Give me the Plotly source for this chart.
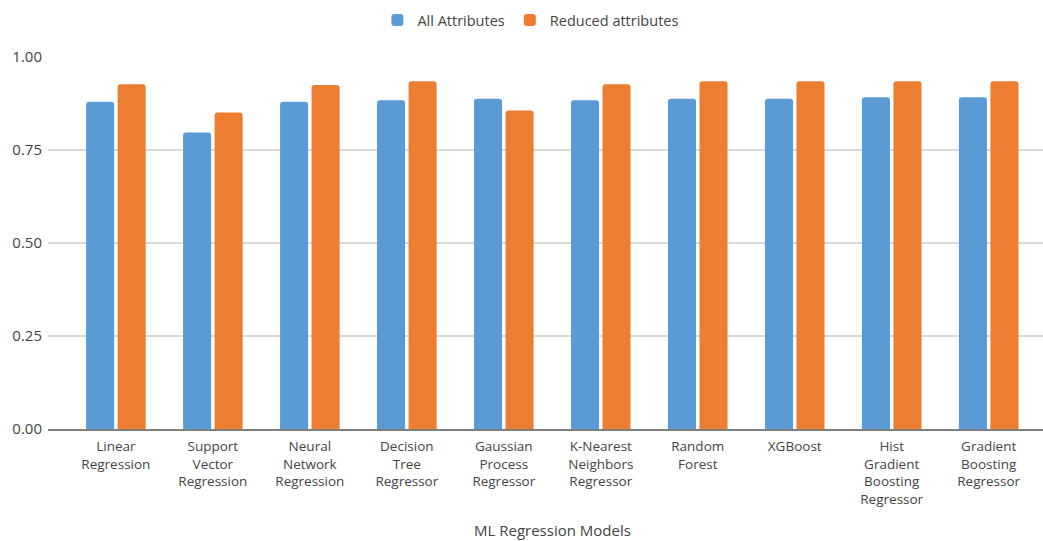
import plotly.graph_objects as go

models = [
    "Linear<br>Regression",
    "Support<br>Vector<br>Regression",
    "Neural<br>Network<br>Regression",
    "Decision<br>Tree<br>Regressor",
    "Gaussian<br>Process<br>Regressor",
    "K-Nearest<br>Neighbors<br>Regressor",
    "Random<br>Forest",
    "XGBoost",
    "Hist<br>Gradient<br>Boosting<br>Regressor",
    "Gradient<br>Boosting<br>Regressor",
]
all_attributes = [0.880, 0.797, 0.880, 0.884, 0.888, 0.884, 0.888, 0.888, 0.892, 0.892]
reduced_attributes = [0.927, 0.851, 0.925, 0.935, 0.856, 0.927, 0.935, 0.935, 0.935, 0.935]
y_ticks = [0.0, 0.25, 0.5, 0.75, 1.0]
y_tick_text = ["0.00", "0.25", "0.50", "0.75", "1.00"]

font_family = "Open Sans"
text_color = "#444444"

fig = go.Figure()
fig.add_trace(go.Bar(x=models, y=all_attributes, name="All Attributes",
                     marker=dict(color="#5B9BD5", line=dict(width=0))))
fig.add_trace(go.Bar(x=models, y=reduced_attributes, name="Reduced attributes",
                     marker=dict(color="#ED7D31", line=dict(width=0))))

fig.update_layout(
    width=1043, height=541,
    margin=dict(l=48, r=0, t=57, b=112),
    paper_bgcolor="white", plot_bgcolor="white",
    barmode="group", bargap=0.35, bargroupgap=0.11,
    barcornerradius=3,
    font=dict(family=font_family, size=14, color=text_color),
    legend=dict(orientation="h", xref="container", yref="container",
                x=0.509, y=0.963, xanchor="center", yanchor="middle",
                font=dict(size=14.5, color=text_color), itemwidth=30,
                traceorder="normal"),
    xaxis=dict(range=[-0.7, 9.56], showgrid=False, showline=True,
               linecolor="#7f7f7f", linewidth=1.5, ticks="", tickangle=0,
               ticklabelstandoff=4,
               tickfont=dict(size=13.5, color=text_color)),
    yaxis=dict(range=[0, 1.0], tickvals=y_ticks, ticktext=y_tick_text,
               showgrid=True, gridcolor="#d9d9d9", gridwidth=1.5,
               zeroline=False, showline=False, ticks="outside", ticklen=2,
               tickcolor="rgba(0,0,0,0)", tickfont=dict(size=15, color=text_color)),
    annotations=[dict(text="ML Regression Models", xref="paper", yref="paper",
                      x=(552 - 48) / 995, y=-(530 - 429) / 372,
                      xanchor="center", yanchor="middle", showarrow=False,
                      font=dict(size=15, color=text_color))],
)

fig.write_html("out.html")
